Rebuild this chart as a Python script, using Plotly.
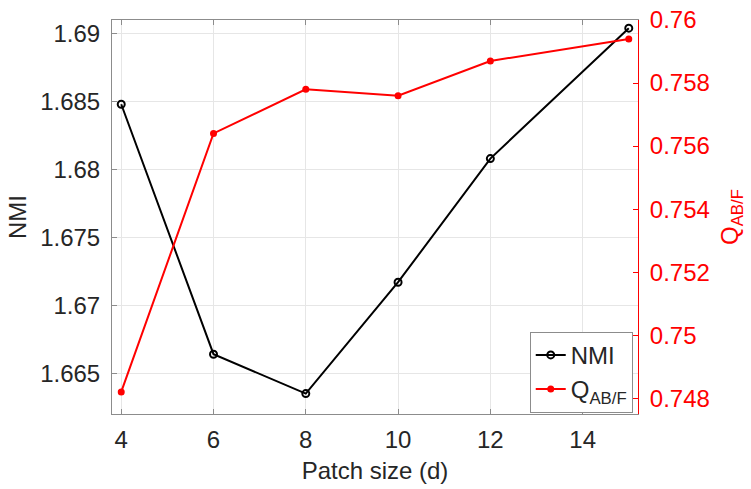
import plotly.graph_objects as go

# Patch size sweep: NMI (left axis) and Q_AB/F (right axis)
patch_size = [4, 6, 8, 10, 12, 15]
nmi = [1.6848, 1.6664, 1.6635, 1.6717, 1.6808, 1.6904]
qabf = [0.7482, 0.7564, 0.7578, 0.7576, 0.7587, 0.7594]

x_ticks = [4, 6, 8, 10, 12, 14]
nmi_ticks = [1.665, 1.67, 1.675, 1.68, 1.685, 1.69]
nmi_labels = ["1.665", "1.67", "1.675", "1.68", "1.685", "1.69"]
q_ticks = [0.748, 0.75, 0.752, 0.754, 0.756, 0.758, 0.76]
q_labels = ["0.748", "0.75", "0.752", "0.754", "0.756", "0.758", "0.76"]

FONT = "Liberation Sans, Arial, sans-serif"
TXT = "#262626"
AX = "#8c8c8c"
GRID = "#e6e6e6"
RED = "#ff0000"
FS = 24

fig = go.Figure()
fig.add_trace(go.Scatter(
    x=patch_size, y=nmi, name="NMI", mode="lines+markers",
    line=dict(color="black", width=2),
    marker=dict(symbol="circle-open", size=7, color="black", line=dict(width=2)),
    yaxis="y",
))
fig.add_trace(go.Scatter(
    x=patch_size, y=qabf, name="Q<sub>AB/F</sub>", mode="lines+markers",
    line=dict(color=RED, width=2),
    marker=dict(symbol="circle", size=7, color=RED),
    yaxis="y2",
))

fig.update_layout(
    width=751, height=489,
    margin=dict(l=112, r=113, t=20, b=75),
    paper_bgcolor="white", plot_bgcolor="white",
    font=dict(family=FONT, size=FS, color=TXT),
    showlegend=True,
    legend=dict(
        x=0.99, y=0.003, xanchor="right", yanchor="bottom",
        bgcolor="white", bordercolor=AX, borderwidth=1,
        font=dict(size=FS, color=TXT),
        tracegroupgap=0, itemwidth=30,
    ),
    xaxis=dict(
        range=[3.8, 15.2], tickvals=x_ticks,
        automargin=False,
        showgrid=True, gridcolor=GRID, gridwidth=1,
        showline=True, linecolor=AX, linewidth=1, mirror="ticks",
        ticks="inside", ticklen=5, tickcolor=AX,
        tickfont=dict(size=FS, color=TXT),
        ticklabelstandoff=4,
        title=dict(text="Patch size (d)", font=dict(size=FS, color=TXT), standoff=10),
        zeroline=False,
    ),
    yaxis=dict(
        range=[1.662, 1.691], tickvals=nmi_ticks, ticktext=nmi_labels,
        automargin=False,
        showgrid=True, gridcolor=GRID, gridwidth=1,
        showline=True, linecolor=AX, linewidth=1,
        ticks="inside", ticklen=5, tickcolor=AX,
        tickfont=dict(size=FS, color=TXT),
        ticklabelstandoff=6,
        title=dict(text="NMI", font=dict(size=FS, color=TXT), standoff=6),
        zeroline=False,
    ),
    yaxis2=dict(
        range=[0.7475, 0.76], tickvals=q_ticks, ticktext=q_labels,
        overlaying="y", side="right", anchor="x",
        automargin=False,
        showgrid=False,
        showline=True, linecolor=RED, linewidth=1,
        ticks="inside", ticklen=5, tickcolor=RED,
        tickfont=dict(size=FS, color=RED),
        ticklabelstandoff=6,
        title=dict(text="Q<sub>AB/F</sub>", font=dict(size=FS, color=RED), standoff=12),
        zeroline=False,
    ),
)

fig.write_html("out.html")
